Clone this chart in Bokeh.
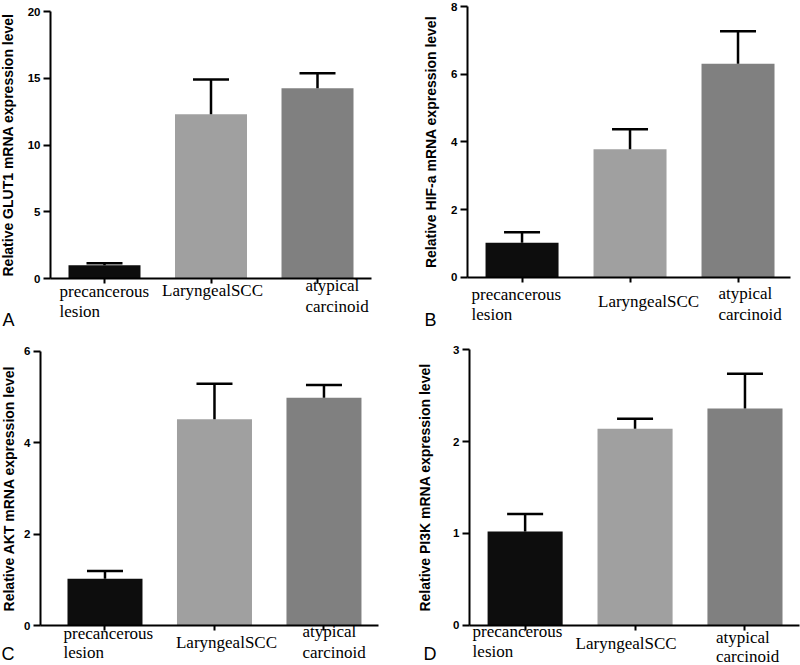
from bokeh.plotting import figure
from bokeh.models import Range1d, FixedTicker, Label, Whisker, TeeHead, ColumnDataSource
from bokeh.layouts import row, column
from bokeh.embed import file_html
from bokeh.resources import INLINE

# ---------------- data ----------------
categories = [["precancerous", "lesion"], ["LaryngealSCC"], ["atypical", "carcinoid"]]
bar_colors = ["#0d0d0d", "#a0a0a0", "#808080"]

glut1_mean = [1.0, 12.3, 14.25]
glut1_err = [0.14, 2.6, 1.12]
hif_mean = [1.02, 3.78, 6.31]
hif_err = [0.31, 0.59, 0.96]
akt_mean = [1.02, 4.51, 4.98]
akt_err = [0.17, 0.78, 0.28]
pi3k_mean = [1.02, 2.14, 2.36]
pi3k_err = [0.19, 0.11, 0.38]

glut1_ticks = [0, 5, 10, 15, 20]
hif_ticks = [0, 2, 4, 6, 8]
akt_ticks = [0, 2, 4, 6]
pi3k_ticks = [0, 1, 2, 3]

y_titles = [
    "Relative GLUT1 mRNA expression level",
    "Relative HIF-a mRNA expression level",
    "Relative AKT mRNA expression level",
    "Relative PI3K mRNA expression level",
]
panel_letters = ["A", "B", "C", "D"]

# ---------------- layout / style ----------------
# bl/br/bt/bb: pixel distance from the figure edges to the plotting area (axes box)
layout_cfg = [
    dict(w=400, h=330, bl=50, br=29, bt=11, bb=52, xr=(-0.507, 2.507), bw=0.676,
         lx=[-45, -49, -12], ly=[[12.7, 32.7], [12], [6.7, 27.7]], px=-48, py=41, ls=9),
    dict(w=400, h=330, bl=67, br=10, bt=6, bb=53.3, xr=(-0.505, 2.486), bw=0.676,
         lx=[-50.5, -32, -19.5], ly=[[17.3, 37.3], [24.6], [16.6, 37.3]], px=-43, py=42.3, ls=9),
    dict(w=400, h=335, bl=40, br=22, bt=20.7, bb=40, xr=(-0.589, 2.498), bw=0.685,
         lx=[-41.5, -38.5, -21.5], ly=[[8.3, 27.3], [17], [6, 27]], px=-39, py=28, ls=4),
    dict(w=400, h=335, bl=69, br=1, bt=19.3, bb=40.3, xr=(-0.506, 2.496), bw=0.683,
         lx=[-52.5, -59.5, -29], ly=[[6.3, 26], [18.5], [12.5, 31]], px=-46, py=28.5, ls=17),
]

SANS = "Liberation Sans"
SERIF = "Liberation Serif"


def make_panel(mean, err, ticks, ytitle, letter, cfg):
    top = ticks[-1]
    x0, x1 = cfg["xr"]
    fw = cfg["w"] - cfg["bl"] - cfg["br"]
    fh = cfg["h"] - cfg["bt"] - cfg["bb"]
    ux = (x1 - x0) / fw
    uy = top / fh
    # data range covering the whole figure so that texts outside the axes box are not clipped
    xrange_full = Range1d(x0 - cfg["bl"] * ux, x1 + cfg["br"] * ux)
    yrange_full = Range1d(-cfg["bb"] * uy, top + cfg["bt"] * uy)

    p = figure(width=cfg["w"], height=cfg["h"], x_range=xrange_full, y_range=yrange_full,
               output_backend="svg", toolbar_location=None)
    p.min_border = 0
    p.min_border_left = 0
    p.min_border_right = 0
    p.min_border_top = 0
    p.min_border_bottom = 0
    p.outline_line_color = None
    p.grid.visible = False
    p.background_fill_color = "white"
    p.border_fill_color = "white"

    xs = list(range(len(categories)))
    src = ColumnDataSource(dict(
        x=xs, top=mean, upper=[m + e for m, e in zip(mean, err)], color=bar_colors))
    p.vbar(x="x", top="top", bottom=0, width=cfg["bw"], fill_color="color",
           line_color=None, source=src)
    wk = Whisker(base="x", lower="top", upper="upper", source=src,
                 line_color="black", line_width=2.5, lower_head=None,
                 upper_head=TeeHead(size=36, line_color="black", line_width=2.5),
                 level="annotation")
    p.add_layout(wk)

    # x axis (at y = 0)
    xa = p.xaxis[0]
    xa.fixed_location = 0
    xa.bounds = (x0, x1)
    xa.ticker = FixedTicker(ticks=xs)
    xa.major_label_text_color = None
    xa.axis_line_width = 2
    xa.major_tick_line_width = 2
    xa.major_tick_out = 5
    xa.major_tick_in = 0
    xa.minor_tick_line_color = None

    # y axis (at left edge of the axes box)
    ya = p.yaxis[0]
    ya.fixed_location = x0
    ya.bounds = (0, top)
    ya.ticker = FixedTicker(ticks=ticks)
    ya.axis_line_width = 2
    ya.major_tick_line_width = 2
    ya.major_tick_out = 7
    ya.major_tick_in = 0
    ya.minor_tick_line_color = None
    ya.major_label_standoff = 3
    ya.major_label_text_font = SANS
    ya.major_label_text_font_style = "bold"
    ya.major_label_text_font_size = "11.5px"
    ya.major_label_text_color = "black"
    ya.axis_label = ytitle
    ya.axis_label_text_font = SANS
    ya.axis_label_text_font_style = "bold"
    ya.axis_label_text_font_size = "14px"
    ya.axis_label_text_color = "black"
    ya.axis_label_standoff = cfg["ls"]

    # category labels
    for i, lines in enumerate(categories):
        for j, line in enumerate(lines):
            p.add_layout(Label(x=xs[i], y=0, x_offset=cfg["lx"][i], y_offset=-cfg["ly"][i][j],
                               text=line, text_font=SERIF, text_font_size="17px",
                               text_color="black", text_align="left",
                               text_baseline="alphabetic"))
    # panel letter
    p.add_layout(Label(x=x0, y=0, x_offset=cfg["px"], y_offset=-cfg["py"],
                       text=letter, text_font=SANS, text_font_size="18px",
                       text_color="black", text_align="left", text_baseline="alphabetic"))
    return p


means = [glut1_mean, hif_mean, akt_mean, pi3k_mean]
errs = [glut1_err, hif_err, akt_err, pi3k_err]
tick_sets = [glut1_ticks, hif_ticks, akt_ticks, pi3k_ticks]

panels = [make_panel(means[k], errs[k], tick_sets[k], y_titles[k], panel_letters[k], layout_cfg[k])
          for k in range(4)]

layout = column(row(panels[0], panels[1]), row(panels[2], panels[3]))

open("out.html", "w").write(file_html(layout, INLINE))
